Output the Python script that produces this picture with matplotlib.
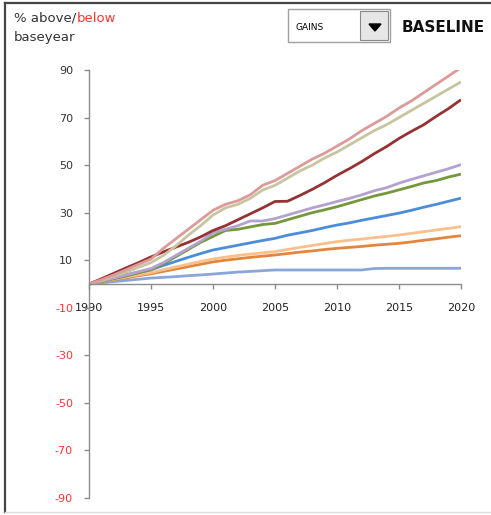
import numpy as np
import matplotlib
matplotlib.use("Agg")
import matplotlib.pyplot as plt
from matplotlib.patches import Rectangle, Polygon
from matplotlib.lines import Line2D

years = np.arange(1990, 2021)

pink = [0, 1.8, 3.8, 6, 8.3, 10.5, 15, 19, 23, 27, 31, 33.5, 35, 37.5, 41.5, 43.5,
        46.5, 49.5, 52.5, 55, 58, 61, 64.5, 67.5, 70.5, 74, 77, 80.5, 84, 87.5, 91]
tan = [0, 1.5, 3.2, 5, 7, 9, 12, 16, 20.5, 24.5, 29, 32, 33.5, 36, 39.5, 41.5,
       44.5, 47.5, 50, 53, 55.5, 58.5, 61.5, 64.5, 67, 70, 73, 76, 79, 82, 85]
darkred = [0, 2.2, 4.5, 6.8, 9, 11.4, 13.5, 15.5, 17.5, 19.8, 22.5, 24.5, 27, 29.5, 32, 34.7,
           34.8, 37.2, 39.8, 42.6, 45.7, 48.5, 51.5, 54.8, 57.8, 61.2, 64.2, 67, 70.5, 73.8, 77.5]
purple = [0, 1.2, 2.5, 3.8, 5.2, 6.5, 9, 12, 15, 18, 21.5, 23, 24.5, 26.5, 26.5, 27.5,
          29, 30.5, 32, 33.3, 34.7, 36, 37.5, 39.2, 40.5, 42.4, 44, 45.5, 47, 48.5, 50.2]
green = [0, 1, 2.2, 3.4, 4.7, 6, 8.5, 11.5, 14.5, 17.5, 20, 22.5, 23, 24, 25, 25.5,
         27, 28.5, 30, 31.2, 32.5, 34, 35.5, 37, 38.2, 39.6, 41, 42.5, 43.5, 45, 46.2]
blue = [0, 1.3, 2.6, 3.9, 5, 6, 7.8, 9.5, 11.2, 12.8, 14.3, 15.3, 16.3, 17.3, 18.3, 19.2,
        20.5, 21.5, 22.5, 23.7, 24.8, 25.7, 26.8, 27.8, 28.8, 29.8, 31, 32.3, 33.5, 34.8, 36.1]
lightorange = [0, 1, 2, 3, 3.9, 4.8, 6, 7.2, 8.3, 9.5, 10.5, 11.3, 12, 12.6, 13.1, 13.6,
               14.5, 15.4, 16.2, 17, 17.8, 18.4, 18.9, 19.5, 20, 20.6, 21.3, 22, 22.7, 23.4, 24.1]
orange = [0, 0.9, 1.8, 2.6, 3.5, 4.3, 5.3, 6.3, 7.3, 8.3, 9.3, 10, 10.6, 11.2, 11.7, 12.2,
          12.8, 13.4, 13.9, 14.5, 15, 15.4, 15.8, 16.3, 16.7, 17.1, 17.7, 18.4, 19, 19.7, 20.3]
steel = [0, 0.5, 1, 1.5, 2, 2.5, 2.8, 3.1, 3.5, 3.8, 4.2, 4.6, 5, 5.3, 5.6, 5.9,
         5.9, 5.9, 5.9, 5.9, 5.9, 5.9, 5.9, 6.5, 6.6, 6.6, 6.6, 6.6, 6.6, 6.6, 6.6]

series = [(steel, "#8aa6d8"), (orange, "#e3853a"), (lightorange, "#fbbf8c"),
          (blue, "#4b8ddb"), (green, "#74983a"), (purple, "#b3a2cf"),
          (darkred, "#963234"), (tan, "#c9c4a0"), (pink, "#dc9b9a")]

yticks = [-90, -70, -50, -30, -10, 10, 30, 50, 70, 90]
xticks = [1990, 1995, 2000, 2005, 2010, 2015, 2020]

fig = plt.figure(figsize=(4.91, 5.15), dpi=100)
ax = fig.add_axes([89/491, (515-498)/515, (461-89)/491, (498-70)/515])

for vals, col in series:
    ax.plot(years, vals, color=col, lw=2.0, solid_capstyle="butt")

ax.set_xlim(1990, 2020)
ax.set_ylim(-90, 90)
ax.spines["top"].set_visible(False)
ax.spines["right"].set_visible(False)
ax.spines["bottom"].set_position(("data", 0))
for s in ("left", "bottom"):
    ax.spines[s].set_color("#8c8c8c")
    ax.spines[s].set_linewidth(1.0)

ax.set_yticks(yticks)
ax.set_yticklabels([str(v) for v in yticks])
for lab, v in zip(ax.get_yticklabels(), yticks):
    lab.set_color("#ff3333" if v < 0 else "#333333")
ax.set_xticks(xticks)
ax.set_xticklabels([str(v) for v in xticks])
ax.tick_params(axis="y", direction="out", length=3.5, width=1, color="#8c8c8c",
               labelsize=8, pad=8)
ax.tick_params(axis="x", direction="out", length=3.5, width=1, color="#8c8c8c",
               labelsize=8, pad=10, labelcolor="#222222")

# outer frame
fig.add_artist(Line2D([4.5/491, 4.5/491], [3/515, 1 - 2.5/515], transform=fig.transFigure,
                      color="#444444", lw=1.6))
fig.add_artist(Line2D([4.5/491, 1], [1 - 2.5/515, 1 - 2.5/515], transform=fig.transFigure,
                      color="#444444", lw=1.6))
fig.add_artist(Line2D([4.5/491, 1], [3/515, 3/515], transform=fig.transFigure,
                      color="#dddddd", lw=1.0))

# header text
t1 = fig.text(14/491, 1 - 18/515, "% above/", fontsize=9.5, color="#333333", va="center")
fig.canvas.draw()
bb = t1.get_window_extent()
fig.text(bb.x1/491, 1 - 18/515, "below", fontsize=9.5, color="#ff3333", va="center")
fig.text(14/491, 1 - 38/515, "baseyear", fontsize=9.5, color="#333333", va="center")

# dropdown box
fig.add_artist(Rectangle((288/491, 1 - 42/515), 102/491, 33/515, transform=fig.transFigure,
                         facecolor="white", edgecolor="#a0a0a0", lw=1))
fig.add_artist(Rectangle((360/491, 1 - 40/515), 28/491, 29/515, transform=fig.transFigure,
                         facecolor="#e6e6e6", edgecolor="#8a8a8a", lw=0.8))
fig.add_artist(Polygon([(369/491, 1 - 24/515), (381/491, 1 - 24/515), (375/491, 1 - 31/515)],
                       closed=True, transform=fig.transFigure, facecolor="black", edgecolor="black"))
fig.text(296/491, 1 - 27/515, "GAINS", fontsize=6.5, color="black", va="center")
fig.text(402/491, 1 - 27/515, "BASELINE", fontsize=11, fontweight="bold", color="#111111",
         va="center")

fig.savefig("out.png", dpi=100)
